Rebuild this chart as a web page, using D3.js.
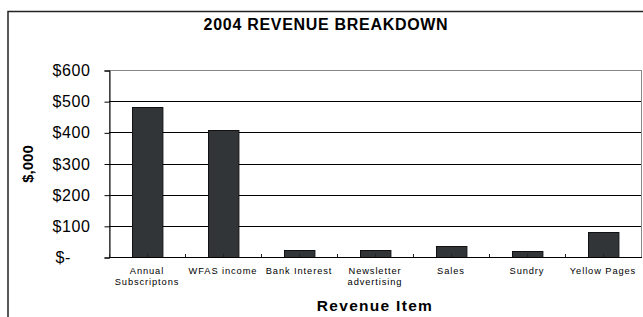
<!DOCTYPE html>
<html>
<head>
<meta charset="utf-8">
<script src="https://cdn.jsdelivr.net/npm/d3@7"></script>
<style>
  body { margin: 0; background: #fff; overflow: hidden; }
  svg { display: block; font-family: Arial, "Liberation Sans", sans-serif; }
</style>
</head>
<body>
<svg id="chart"></svg>
<script>
// revenue items and values ($,000)
const categories = [
  ['Annual', 'Subscriptons'],
  ['WFAS income'],
  ['Bank Interest'],
  ['Newsletter', 'advertising'],
  ['Sales'],
  ['Sundry'],
  ['Yellow Pages']
]
const values = [480, 407, 22, 22, 35, 18, 79]
const yTicks = [0, 100, 200, 300, 400, 500, 600]
const yTickLabels = ['$-', '$100', '$200', '$300', '$400', '$500', '$600']

const W = 643, H = 317
const plot = { left: 109, right: 641, top: 70, bottom: 257 }

const svg = d3.select('#chart').attr('width', W).attr('height', H)

// outer chart frame (runs off the right/bottom edge)
svg.append('rect')
  .attr('x', 8).attr('y', 11.5)
  .attr('width', 700).attr('height', 400)
  .attr('fill', '#fff').attr('stroke', '#222').attr('stroke-width', 1.5)

const keys = categories.map((c, i) => i)
const x = d3.scaleBand().domain(keys).range([plot.left, plot.right]).paddingInner(0.6).paddingOuter(0.3)
const xc = d3.scaleBand().domain(keys).range([plot.left, plot.right])
const y = d3.scaleLinear().domain([0, 600]).range([plot.bottom, plot.top])

// plot area border (grey top/right)
svg.append('rect')
  .attr('x', plot.left + 0.5).attr('y', plot.top + 0.5)
  .attr('width', plot.right - plot.left).attr('height', plot.bottom - plot.top)
  .attr('fill', 'none').attr('stroke', '#888')

// gridlines
svg.append('g').selectAll('line').data(yTicks.slice(1, -1)).join('line')
  .attr('x1', plot.left).attr('x2', plot.right)
  .attr('y1', d => Math.round(y(d)) + 0.5).attr('y2', d => Math.round(y(d)) + 0.5)
  .attr('stroke', '#000')

// y axis
const yAxis = d3.axisLeft(y).tickValues(yTicks).tickSize(5)
  .tickFormat((d, i) => yTickLabels[i])
const gy = svg.append('g').attr('transform', `translate(${plot.left + 0.5},0.5)`).call(yAxis)
gy.select('.domain').attr('stroke', '#000')
gy.selectAll('.tick line').attr('stroke', '#000')
gy.selectAll('.tick text')
  .attr('font-size', 16).attr('fill', '#000').attr('letter-spacing', 0.6)
  .attr('font-family', 'Arial, "Liberation Sans", sans-serif')
  .attr('text-anchor', 'start')
  .attr('x', d => (d === 0 ? 55 : 52) - plot.left)

// bars
svg.append('g').selectAll('rect').data(values).join('rect')
  .attr('x', (d, i) => Math.round(x(i)) + 0.5)
  .attr('y', d => Math.round(y(d)) + 0.5)
  .attr('width', x.bandwidth())
  .attr('height', d => plot.bottom - Math.round(y(d)))
  .attr('fill', '#313538').attr('stroke', '#111').attr('stroke-width', 1)

// x axis line + inward ticks at boundaries and centres
svg.append('line')
  .attr('x1', plot.left).attr('x2', plot.right + 1)
  .attr('y1', plot.bottom + 0.5).attr('y2', plot.bottom + 0.5)
  .attr('stroke', '#000')
const tickXs = keys.map(i => xc(i)).concat(keys.map(i => xc(i) + xc.bandwidth() / 2))
svg.append('g').selectAll('line').data(tickXs).join('line')
  .attr('x1', d => Math.round(d) + 0.5).attr('x2', d => Math.round(d) + 0.5)
  .attr('y1', plot.bottom - 3).attr('y2', plot.bottom)
  .attr('stroke', '#222')

// category labels
const lab = svg.append('g').attr('font-size', 9.3).attr('fill', '#000').attr('text-anchor', 'middle')
categories.forEach((lines, i) => {
  const cx = xc(i) + xc.bandwidth() / 2
  const t = lab.append('text').attr('y', 273.5)
  lines.forEach((s, j) => t.append('tspan')
    .attr('x', cx).attr('dy', j ? 11.5 : 0)
    .attr('letter-spacing', 0.9).text(s))
})

// titles
svg.append('text').attr('x', 326).attr('y', 30).attr('text-anchor', 'middle')
  .attr('font-size', 16).attr('font-weight', 'bold').attr('letter-spacing', 0.7)
  .text('2004 REVENUE BREAKDOWN')
svg.append('text').attr('x', 375).attr('y', 311).attr('text-anchor', 'middle')
  .attr('font-size', 15.5).attr('font-weight', 'bold').attr('letter-spacing', 1.3)
  .text('Revenue Item')
svg.append('text').attr('transform', 'translate(33,164) rotate(-90)').attr('text-anchor', 'middle')
  .attr('font-size', 15).attr('font-weight', 'bold').text('$,000')
</script>
</body>
</html>
